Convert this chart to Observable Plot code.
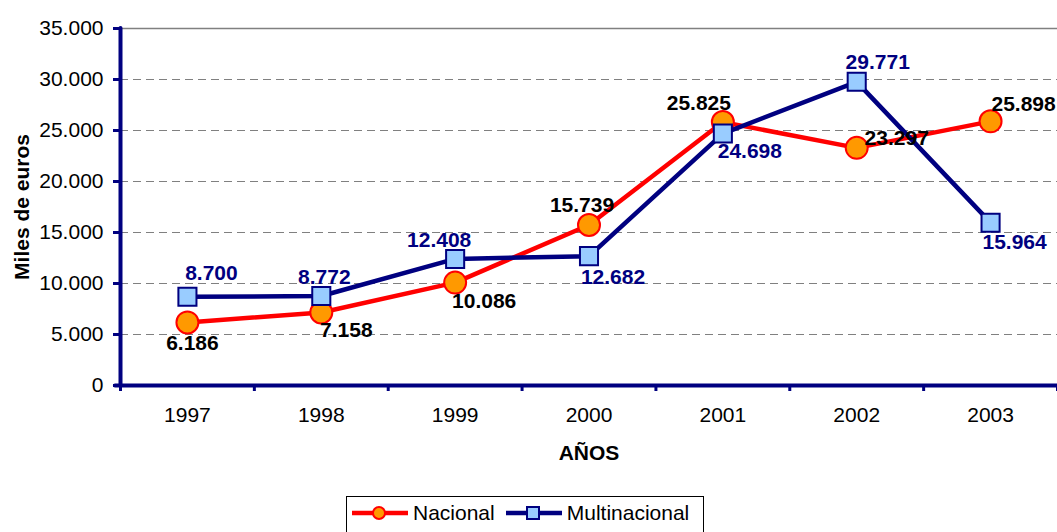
<!DOCTYPE html>
<html>
<head>
<meta charset="utf-8">
<script src="https://cdn.jsdelivr.net/npm/d3@7"></script>
<script src="https://cdn.jsdelivr.net/npm/@observablehq/plot@0.6"></script>
<style>
  html, body { margin: 0; padding: 0; background: #fff; }
  body { width: 1057px; height: 532px; overflow: hidden; font-family: "Liberation Sans", Arial, sans-serif; }
  #legend { position: absolute; left: 346px; top: 496px; width: 358px; height: 40px; border: 1.5px solid #000; box-sizing: border-box; display: flex; align-items: flex-start; padding-top: 4px; font-size: 21px; color: #000; }
  #legend .item { display: flex; align-items: center; }
  #legend svg { display: block; }
</style>
</head>
<body>
<div id="chart"></div>
<div id="legend"></div>
<script>
// ---- data ----
const years = [1997, 1998, 1999, 2000, 2001, 2002, 2003];
const nacional = [6186, 7158, 10086, 15739, 25825, 23297, 25898];
const multinacional = [8700, 8772, 12408, 12682, 24698, 29771, 15964];
const yTicks = [0, 5000, 10000, 15000, 20000, 25000, 30000, 35000];
const seriesNames = ["Nacional", "Multinacional"];

// ---- layout of data labels (offsets from each point, px) ----
const nacLabelOffset = [[5, 21], [25, 18], [29, 19], [-7, -20], [-24, -19], [40, -10], [33, -17]];
const mulLabelOffset = [[24, -23], [3, -19], [-16, -19], [24, 21], [27, 18], [21, -20], [24, 20]];

const RED = "#ff0000", ORANGE = "#ff9900", NAVY = "#000080", LIGHTBLUE = "#99ccff";
const FONT = "Liberation Sans, Arial, sans-serif";

const loc = d3.formatLocale({decimal: ",", thousands: ".", grouping: [3], currency: ["", "€"]});
const fmt = loc.format(",");

const nacData = years.map((yr, i) => ({year: yr, value: nacional[i]}));
const mulData = years.map((yr, i) => ({year: yr, value: multinacional[i]}));
const bounds = d3.range(years.length + 1).map(i => years[0] - 0.5 + i);
const xMin = bounds[0], yMax = yTicks[yTicks.length - 1];

const labelMarks = (data, offsets, color) => data.map((d, i) =>
  Plot.text([d], {x: "year", y: "value", text: d => fmt(d.value), dx: offsets[i][0], dy: offsets[i][1],
    fill: color, fontWeight: "bold", fontSize: 21, textAnchor: "middle", lineAnchor: "middle"}));

const chart = Plot.plot({
  width: 1057,
  height: 490,
  marginLeft: 120,
  marginRight: 0,
  marginTop: 28,
  marginBottom: 105,
  style: {fontFamily: FONT, fontSize: "21px", color: "#000", background: "#fff", overflow: "visible"},
  x: {type: "linear", domain: [bounds[0], bounds[bounds.length - 1]]},
  y: {domain: [0, yMax]},
  marks: [
    Plot.gridY(yTicks.filter(t => t > 0 && t < yMax), {stroke: "#808080", strokeOpacity: 1, strokeDasharray: "8,5", strokeWidth: 1}),
    Plot.ruleY([yMax], {stroke: "#808080", strokeWidth: 1.5}),
    // axes
    Plot.axisY(yTicks, {tickSize: 7, tickFormat: () => "", stroke: NAVY, strokeWidth: 3, label: null}),
    Plot.axisY(yTicks, {tickSize: 0, tickPadding: 17, tickFormat: fmt, fill: "#000", label: null, fontSize: 21}),
    Plot.axisX(bounds, {tickSize: 6, tickFormat: () => "", stroke: NAVY, strokeWidth: 3, label: null}),
    Plot.axisX(years, {tickSize: 0, tickPadding: 22, tickFormat: d => String(d), fill: "#000", label: null, fontSize: 21}),
    Plot.ruleX([xMin], {y1: 0, y2: yMax, stroke: NAVY, strokeWidth: 4, strokeLinecap: "round"}),
    Plot.ruleY([0], {stroke: NAVY, strokeWidth: 4, strokeLinecap: "round", insetLeft: -5}),
    Plot.text(["AÑOS"], {frameAnchor: "bottom", dy: 68, fontWeight: "bold", fontSize: 21, lineAnchor: "middle"}),
    Plot.text(["Miles de euros"], {frameAnchor: "left", dx: -98, rotate: -90, fontWeight: "bold", fontSize: 21, lineAnchor: "middle", textAnchor: "middle"}),
    // Nacional
    Plot.line(nacData, {x: "year", y: "value", stroke: RED, strokeWidth: 4.5}),
    Plot.dot(nacData, {x: "year", y: "value", r: 11, fill: ORANGE, stroke: RED, strokeWidth: 2}),
    // Multinacional
    Plot.line(mulData, {x: "year", y: "value", stroke: NAVY, strokeWidth: 4.5}),
    Plot.dot(mulData, {x: "year", y: "value", symbol: "square", r: 10.2, fill: LIGHTBLUE, stroke: NAVY, strokeWidth: 2}),
    ...labelMarks(nacData, nacLabelOffset, "#000"),
    ...labelMarks(mulData, mulLabelOffset, NAVY)
  ]
});
document.getElementById("chart").appendChild(chart);

// ---- legend ----
const legend = document.getElementById("legend");
const swatch = (name, i) => {
  const item = document.createElement("div");
  item.className = "item";
  const color = i === 0 ? RED : NAVY;
  const marker = i === 0
    ? `<circle cx="28" cy="12" r="6" fill="${ORANGE}" stroke="${RED}" stroke-width="2"/>`
    : `<rect x="22" y="6" width="12" height="12" fill="${LIGHTBLUE}" stroke="${NAVY}" stroke-width="2"/>`;
  item.innerHTML = `<svg width="58" height="24"><line x1="1" y1="12" x2="57" y2="12" stroke="${color}" stroke-width="4.5"/>${marker}</svg><span style="margin-left:4px;margin-right:${i === 0 ? 10 : 0}px">${name}</span>`;
  item.style.marginLeft = i === 0 ? "4px" : "0";
  return item;
};
seriesNames.forEach((n, i) => legend.appendChild(swatch(n, i)));
</script>
</body>
</html>
